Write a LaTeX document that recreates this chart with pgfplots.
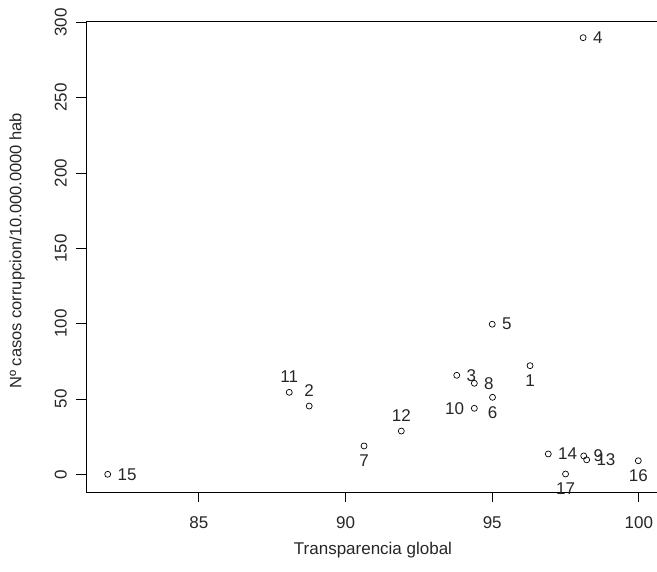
\documentclass[border=0pt]{standalone}
\usepackage{pgfplots}
\pgfplotsset{compat=1.18}
\usepackage{fontspec}
\setmainfont{Liberation Sans}
\begin{document}
\begin{tikzpicture}[font=\fontsize{17}{20}\selectfont]
\begin{axis}[
  at={(0,0)}, anchor=south west,
  scale only axis, width=574pt, height=470.3pt,
  xmin=81.15, xmax=100.72, ymin=-11.75, ymax=300.4,
  xtick={85,90,95,100}, ytick={0,50,100,150,200,250,300},
  xtick pos=lower, ytick pos=left,
  tick align=outside, major tick length=10pt,
  axis line style={line width=0.9pt, black},
  every tick/.style={line width=0.9pt, black},
  /pgf/number format/assume math mode=true,
  xticklabel style={anchor=north, yshift=-14pt, inner sep=0pt, text=black!85},
  yticklabel style={rotate=90, anchor=south, yshift=9pt, inner sep=0pt, text=black!85},
  xlabel={Transparencia global},
  ylabel={Nº casos corrupcion/10.000.0000 hab},
  every axis x label/.style={at={(axis description cs:0.5,0)}, yshift=-58pt, anchor=center, text=black!85},
  every axis y label/.style={at={(axis description cs:0,0.5128)}, xshift=-69pt, rotate=90, anchor=center, text=black!85, font=\fontsize{16.5}{20}\selectfont},
  clip=false,
  point meta=explicit symbolic,
  nodes near coords,
  every node near coord/.style={inner sep=0pt, text=black!85},
]
% labels to the right
\addplot[only marks, mark=o, mark size=3pt, mark options={line width=0.7pt}, black,
  nodes near coords style={anchor=west, xshift=9.5pt}]
  table[meta=lab] {
x y lab
81.89 0 15
93.79 65.7 3
94.39 60.4 8
95.00 99.6 5
98.10 289.8 4
96.91 13.5 14
98.12 12.2 9
98.22 9.6 13
};
% labels above
\addplot[only marks, mark=o, mark size=3pt, mark options={line width=0.7pt}, black,
  nodes near coords style={anchor=south, yshift=9pt}]
  table[meta=lab] {
x y lab
88.08 54.4 11
88.76 45.3 2
91.90 28.7 12
};
% labels below
\addplot[only marks, mark=o, mark size=3pt, mark options={line width=0.7pt}, black,
  nodes near coords style={anchor=north, yshift=-8.5pt}]
  table[meta=lab] {
x y lab
90.63 18.8 7
95.01 51.1 6
96.29 72.1 1
99.98 9.0 16
97.50 0.2 17
};
% labels left
\addplot[only marks, mark=o, mark size=3pt, mark options={line width=0.7pt}, black,
  nodes near coords style={anchor=east, xshift=-10pt}]
  table[meta=lab] {
x y lab
94.39 43.8 10
};
\end{axis}
\pgfresetboundingbox
\useasboundingbox (-86pt,-80pt) rectangle (571pt,492pt);
\end{tikzpicture}
\end{document}
